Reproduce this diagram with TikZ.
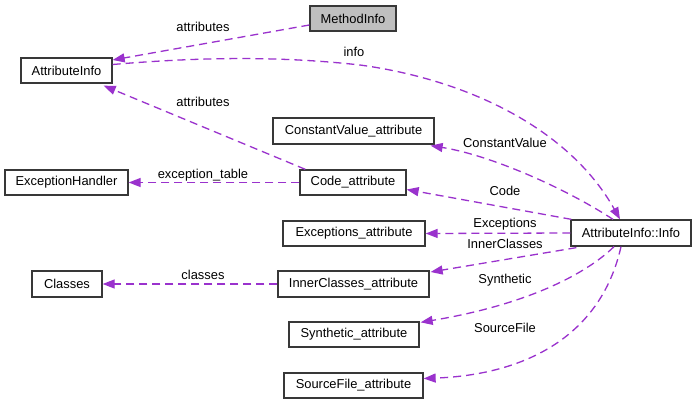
\documentclass[tikz,border=0pt]{standalone}
\usepackage{fontspec}
\setmainfont{Liberation Sans}
\usetikzlibrary{arrows.meta,calc}
\definecolor{edgecol}{HTML}{9A32CD}
\definecolor{boxgray}{HTML}{BFBFBF}
\begin{document}
\begin{tikzpicture}[x=1pt,y=-1pt,
  cls/.style={draw=black!78, line width=1.3pt, minimum height=25pt, inner sep=0pt,
    font=\fontsize{12.9}{14}\selectfont, fill=white},
  edge/.style={draw=edgecol, line width=1.3pt, dash pattern=on 8pt off 5pt,
    -{Triangle[length=12pt,width=9pt]}},
  lbl/.style={font=\fontsize{12.9}{14}\selectfont, inner sep=0pt}]
\path[use as bounding box, fill=white] (0,0) rectangle (696,404);

\node[cls, fill=boxgray, minimum width=86pt] (mi) at (353,18.5) {MethodInfo};
\node[cls, minimum width=91pt] (ai) at (66.5,70.5) {AttributeInfo};
\node[cls, minimum width=161pt, minimum height=26pt] (cv) at (353.5,131) {ConstantValue\_attribute};
\node[cls, minimum width=123pt] (eh) at (66.5,182.5) {ExceptionHandler};
\node[cls, minimum width=106pt] (code) at (353,182.5) {Code\_attribute};
\node[cls, minimum width=142pt] (exc) at (354,233.5) {Exceptions\_attribute};
\node[cls, minimum width=70pt, minimum height=26pt] (cl) at (67,284) {Classes};
\node[cls, minimum width=151pt, minimum height=26pt] (ic) at (353.5,284) {InnerClasses\_attribute};
\node[cls, minimum width=130pt] (syn) at (354,334.5) {Synthetic\_attribute};
\node[cls, minimum width=139pt] (sf) at (353.5,385.5) {SourceFile\_attribute};
\node[cls, minimum width=120pt, minimum height=26pt] (info) at (631,233) {AttributeInfo::Info};

% MethodInfo -> AttributeInfo
\draw[edge] ($(mi.west)+(0,6.5)$) -- ($(ai.east)+(0,-10.5)$);
\node[lbl] (l1) at (203,27) {attributes};
% AttributeInfo -> Info
\draw[edge] ($(ai.east)+(0,-6)$) .. controls (200,57) and (280,56) .. (360,65)
  .. controls (470,80) and (570,130) .. ($(info.north)+(-11,0)$);
\node[lbl] (l2) at (354,52) {info};
% Code -> AttributeInfo
\draw[edge] ($(code.north west)+(6,0)$) -- ($(ai.south east)+(-9,2)$);
\node[lbl] (l3) at (203,102) {attributes};
% Code -> ExceptionHandler
\draw[edge] (code.west) -- (eh.east);
\node[lbl] (l4) at (203,175) {exception\_table};
% InnerClasses -> Classes
\draw[edge] (ic.west) -- (cl.east);
\node[lbl] (l5) at (203,275) {classes};
% Info -> ConstantValue
\draw[edge] ($(info.north)+(-18,0)$) .. controls (565,188) and (490,155) .. ($(cv.south east)+(-4,1)$);
\node[lbl] (l6) at (505,143) {ConstantValue};
% Info -> Code
\draw[edge] ($(info.north west)+(1,0)$) -- ($(code.east)+(0,7)$);
\node[lbl] (l7) at (505,191) {Code};
% Info -> Exceptions
\draw[edge] (info.west) -- (exc.east);
\node[lbl] (l8) at (505,224) {Exceptions};
% Info -> InnerClasses
\draw[edge] ($(info.south west)+(6,1)$) -- ($(ic.east)+(1,-12)$);
\node[lbl] (l9) at (505,244) {InnerClasses};
% Info -> Synthetic
\draw[edge] ($(info.south)+(-17,0)$) .. controls (585,275) and (525,305) .. ($(syn.north east)+(1,1)$);
\node[lbl] (l10) at (505,280) {Synthetic};
% Info -> SourceFile
\draw[edge] ($(info.south)+(-10,0)$) .. controls (600,340) and (520,375) .. ($(sf.east)+(0,-7)$);
\node[lbl] (l11) at (505,328) {SourceFile};
\end{tikzpicture}
\end{document}
